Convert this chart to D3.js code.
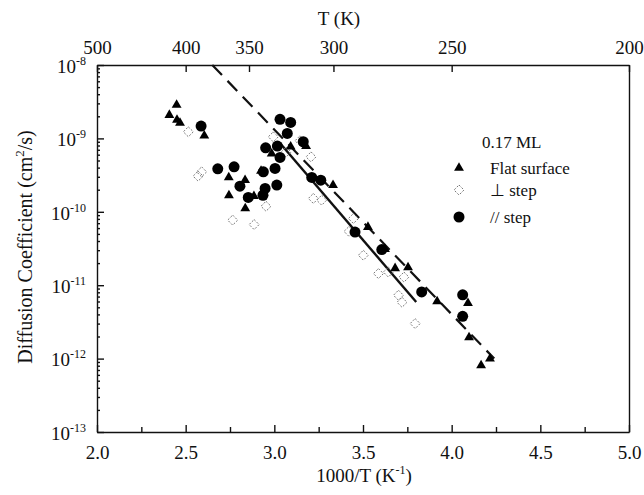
<!DOCTYPE html>
<html>
<head>
<meta charset="utf-8">
<script src="https://cdn.jsdelivr.net/npm/d3@7"></script>
<style>
  html, body { margin: 0; padding: 0; background: #fff; }
  svg { display: block; }
  text { font-family: "Liberation Serif", "Times New Roman", serif; fill: #111; }
</style>
</head>
<body>
<svg id="chart" width="644" height="495"></svg>
<script>
// ---------- data (x = 1000/T in K^-1, D in cm^2/s) ----------
const flatSurface = [
  [2.408, 2.08e-9], [2.449, 2.85e-9], [2.451, 1.78e-9], [2.468, 1.62e-9], [2.605, 1.09e-9],
  [2.743, 2.94e-10], [2.835, 2.70e-10], [2.744, 1.67e-10], [2.836, 1.11e-10],
  [2.925, 3.6e-10], [2.885, 1.63e-10], [2.985, 6.2e-10], [3.092, 7.7e-10], [3.179, 7.85e-10],
  [3.331, 2.3e-10], [3.528, 6.2e-11], [3.624, 3.1e-11], [3.681, 1.7e-11], [3.754, 1.75e-11],
  [3.918, 6.0e-12], [4.092, 5.7e-12], [4.098, 1.95e-12], [4.166, 8.1e-13], [4.216, 1.0e-12]
];
const perpStep = [
  [2.515, 1.23e-9], [2.590, 3.5e-10], [2.570, 3.06e-10], [2.765, 7.7e-11], [2.886, 6.7e-11],
  [2.953, 1.19e-10], [2.994, 1.05e-9], [3.066, 6.5e-10], [3.145, 9.3e-10], [3.207, 5.6e-10],
  [3.220, 1.52e-10], [3.267, 1.44e-10], [3.421, 5.4e-11], [3.446, 8.1e-11], [3.502, 2.56e-11],
  [3.587, 1.44e-11], [3.643, 1.51e-11], [3.700, 7.3e-12], [3.720, 5.85e-12], [3.731, 1.29e-11],
  [3.794, 3.0e-12]
];
const parStep = [
  [2.587, 1.47e-9], [2.681, 3.85e-10], [2.773, 4.1e-10], [2.806, 2.23e-10], [2.853, 1.57e-10],
  [2.936, 1.68e-10], [2.948, 2.08e-10], [3.014, 2.31e-10], [2.938, 3.5e-10], [3.004, 3.9e-10],
  [3.032, 5.5e-10], [2.951, 7.45e-10], [3.017, 7.85e-10], [3.032, 1.82e-9], [3.092, 1.65e-9],
  [3.073, 1.17e-9], [3.163, 9.0e-10], [3.211, 2.94e-10], [3.262, 2.7e-10], [3.455, 5.3e-11],
  [3.606, 3.06e-11], [3.831, 8.1e-12], [4.062, 7.4e-12], [4.062, 3.77e-12]
];
const dashedFit = [[2.65, 1e-8], [4.24, 1.0e-12]];
const solidFit  = [[3.03, 8.7e-10], [3.80, 5.9e-12]];

const bottomTicks = [2.0, 2.5, 3.0, 3.5, 4.0, 4.5, 5.0];
const bottomMinor = [2.25, 2.75, 3.25, 3.75, 4.25, 4.75];
const topTemps = [500, 400, 350, 300, 250, 200];
const decadeExps = [-8, -9, -10, -11, -12, -13];
const legendTitle = "0.17 ML";
const legendLabels = ["Flat surface", "\u22A5 step", "// step"];

// ---------- scales ----------
const svg = d3.select("#chart");
const x = d3.scaleLinear().domain([2, 5]).range([97, 629]);
const y = d3.scaleLog().domain([1e-13, 1e-8]).range([432, 65]);
const fs = 19;

// ---------- axes ----------
// bottom
const gB = svg.append("g").attr("transform", `translate(0,${y(1e-13)})`)
  .call(d3.axisBottom(x).tickValues(bottomTicks).tickFormat(d3.format(".1f"))
    .tickSizeInner(-7).tickSizeOuter(0).tickPadding(14));
gB.selectAll("text").attr("font-size", fs).attr("font-family", "Liberation Serif").attr("fill", "#111");
svg.append("g").attr("transform", `translate(0,${y(1e-13)})`)
  .call(d3.axisBottom(x).tickValues(bottomMinor).tickFormat("").tickSizeInner(-5).tickSizeOuter(0))
  .select(".domain").remove();

// top (temperature)
const gT = svg.append("g").attr("transform", `translate(0,${y(1e-8)})`)
  .call(d3.axisTop(x).tickValues(topTemps.map(t => 1000 / t)).tickFormat((d, i) => topTemps[i])
    .tickSizeInner(-7).tickSizeOuter(0).tickPadding(11));
gT.selectAll("text").attr("font-size", fs).attr("font-family", "Liberation Serif").attr("fill", "#111");

// left (log decades)
const yMinor = [];
decadeExps.slice(1).forEach(e => { for (let k = 2; k <= 9; k++) yMinor.push(k * Math.pow(10, e)); });
const gL = svg.append("g").attr("transform", `translate(${x(2)},0)`)
  .call(d3.axisLeft(y).tickValues(decadeExps.map(e => Math.pow(10, e))).tickFormat(() => "")
    .tickSizeInner(-7).tickSizeOuter(0));
svg.append("g").attr("transform", `translate(${x(2)},0)`)
  .call(d3.axisLeft(y).tickValues(yMinor).tickFormat("").tickSizeInner(-3).tickSizeOuter(0))
  .select(".domain").remove();
gL.selectAll(".tick").each(function (d) {
  const e = Math.round(Math.log10(d));
  const t = d3.select(this).append("text")
    .attr("x", -11).attr("y", 0).attr("dy", "0.38em")
    .attr("text-anchor", "end").attr("fill", "#111").attr("font-family", "Liberation Serif")
    .attr("font-size", fs);
  t.append("tspan").text("10");
  t.append("tspan").attr("font-size", 12).attr("dy", -8).text(String(e));
});

// right
svg.append("g").attr("transform", `translate(${x(5)},0)`)
  .call(d3.axisRight(y).tickValues([]).tickSizeOuter(0));

svg.selectAll(".domain, .tick line").attr("stroke", "#111").attr("stroke-width", 1.4);

// axis titles
const bt = svg.append("text").attr("x", 364).attr("y", 482).attr("text-anchor", "middle").attr("font-size", fs);
bt.append("tspan").text("1000/T (K");
bt.append("tspan").attr("font-size", 12).attr("dy", -8).text("-1");
bt.append("tspan").attr("dy", 8).text(")");

svg.append("text").attr("x", 339).attr("y", 25).attr("text-anchor", "middle").attr("font-size", fs).text("T (K)");

const yt = svg.append("text").attr("transform", "translate(32,247) rotate(-90)")
  .attr("text-anchor", "middle").attr("font-size", 20);
yt.append("tspan").text("Diffusion Coefficient (cm");
yt.append("tspan").attr("font-size", 13).attr("dy", -8).text("2");
yt.append("tspan").attr("dy", 8).text("/s)");

// ---------- fit lines ----------
const line = d3.line().x(d => x(d[0])).y(d => y(d[1]));
svg.append("path").datum(dashedFit).attr("d", line).attr("fill", "none")
  .attr("stroke", "#111").attr("stroke-width", 2.2).attr("stroke-dasharray", "14,8");
svg.append("path").datum(solidFit).attr("d", line).attr("fill", "none")
  .attr("stroke", "#111").attr("stroke-width", 2.4);

// ---------- markers ----------
const tri = d3.symbol().type(d3.symbolTriangle).size(42);
const diamondPath = "M0,-5L5,0L0,5L-5,0Z";

svg.append("g").selectAll("path").data(perpStep).join("path")
  .attr("transform", d => `translate(${x(d[0])},${y(d[1])})`)
  .attr("d", diamondPath).attr("fill", "none").attr("stroke", "#777")
  .attr("stroke-width", 1).attr("stroke-dasharray", "2,1.6");

svg.append("g").selectAll("path").data(flatSurface).join("path")
  .attr("transform", d => `translate(${x(d[0])},${y(d[1])})`)
  .attr("d", tri()).attr("fill", "#000");

svg.append("g").selectAll("circle").data(parStep).join("circle")
  .attr("cx", d => x(d[0])).attr("cy", d => y(d[1])).attr("r", 5.5).attr("fill", "#000");

// ---------- legend ----------
const lg = svg.append("g");
lg.append("text").attr("x", 482).attr("y", 148).attr("font-size", 17).text(legendTitle);
const rowsY = [168, 190, 217];
lg.append("path").attr("transform", `translate(459,${rowsY[0]})`).attr("d", tri()).attr("fill", "#000");
lg.append("path").attr("transform", `translate(459,${rowsY[1]})`).attr("d", diamondPath)
  .attr("fill", "none").attr("stroke", "#777").attr("stroke-width", 1).attr("stroke-dasharray", "2,1.6");
lg.append("circle").attr("cx", 459).attr("cy", rowsY[2]).attr("r", 5.5).attr("fill", "#000");
legendLabels.forEach((t, i) => {
  lg.append("text").attr("x", 490).attr("y", rowsY[i]).attr("dy", "0.35em").attr("font-size", 17).text(t);
});
</script>
</body>
</html>
